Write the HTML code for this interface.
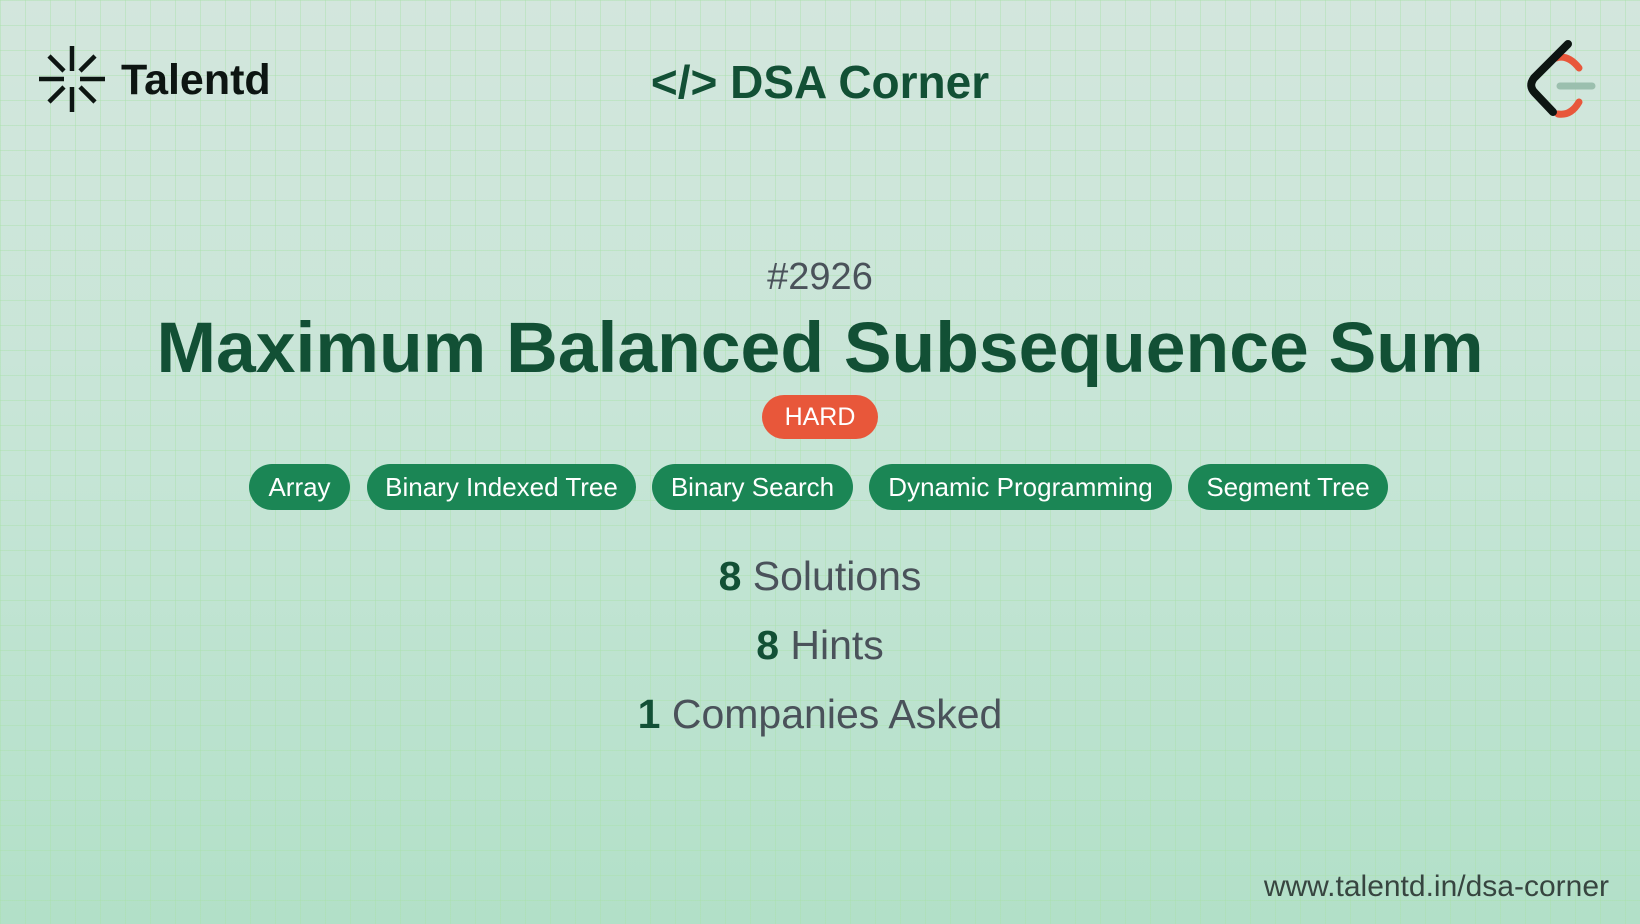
<!DOCTYPE html>
<html><head><meta charset="utf-8"><style>
html,body{margin:0;padding:0}
body{width:1640px;height:924px;position:relative;overflow:hidden;font-family:"Liberation Sans",Arial,sans-serif;
background:linear-gradient(180deg,#d3e6dd 0%,#c6e5d6 50%,#b2e0c8 100%);}
.grid{position:absolute;inset:0;background-image:linear-gradient(to right,rgba(170,225,170,.45) 1px,transparent 1px),linear-gradient(to bottom,rgba(170,225,170,.45) 1px,transparent 1px);background-size:25px 25px;background-position:0 0}
.c{position:absolute;left:0;width:1640px;text-align:center;white-space:nowrap}
.pill{position:absolute;top:464px;height:46px;border-radius:23px;background:#1b8655;color:#fff;font-size:26px;display:flex;align-items:center;justify-content:center}
</style></head><body>
<div class="grid"></div>
<svg style="position:absolute;left:38px;top:45px" width="68" height="68" viewBox="-34 -34 68 68">
<g stroke="#0d1512" stroke-width="4.5">
<line x1="0" y1="-33" x2="0" y2="-8"/><line x1="0" y1="8" x2="0" y2="33"/>
<line x1="-33" y1="0" x2="-8" y2="0"/><line x1="8" y1="0" x2="33" y2="0"/>
<line x1="-23" y1="-23" x2="-8" y2="-8"/><line x1="23" y1="-23" x2="8" y2="-8"/>
<line x1="-23" y1="23" x2="-8" y2="8"/><line x1="23" y1="23" x2="8" y2="8"/>
</g></svg>
<div style="position:absolute;left:121px;top:56px;font-size:43px;font-weight:bold;color:#0d1512">Talentd</div>
<div class="c" style="top:55px;font-size:46px;font-weight:bold;color:#125035">&lt;/&gt; DSA Corner</div>
<svg style="position:absolute;left:1520px;top:36px" width="80" height="84" viewBox="0 0 80 84">
<path d="M36 22 Q48 18 59 32" stroke="#e8573a" stroke-width="7" fill="none" stroke-linecap="round"/>
<path d="M38 78 Q51 80 59 66" stroke="#e8573a" stroke-width="7" fill="none" stroke-linecap="round"/>
<line x1="40" y1="50" x2="72" y2="50" stroke="#9bbfae" stroke-width="7" stroke-linecap="round"/>
<path d="M48 8 L14 42 Q8 50 15 57 L33 76" stroke="#0d1512" stroke-width="8" fill="none" stroke-linecap="round" stroke-linejoin="round"/>
</svg>
<div class="c" style="top:256px;font-size:38px;color:#4a525a">#2926</div>
<div class="c" style="top:307px;font-size:71.5px;font-weight:bold;color:#125035">Maximum Balanced Subsequence Sum</div>
<div style="position:absolute;left:762px;top:395px;width:116px;height:44px;border-radius:22px;background:#e8573a;color:#fff;font-size:25px;display:flex;align-items:center;justify-content:center">HARD</div>
<div class="pill" style="left:249px;width:101px">Array</div>
<div class="pill" style="left:367px;width:269px">Binary Indexed Tree</div>
<div class="pill" style="left:652px;width:201px">Binary Search</div>
<div class="pill" style="left:869px;width:303px">Dynamic Programming</div>
<div class="pill" style="left:1188px;width:200px">Segment Tree</div>
<div class="c" style="top:553px;font-size:41px;color:#4a525a"><b style="color:#125035">8</b> Solutions</div>
<div class="c" style="top:622px;font-size:41px;color:#4a525a"><b style="color:#125035">8</b> Hints</div>
<div class="c" style="top:691px;font-size:41px;color:#4a525a"><b style="color:#125035">1</b> Companies Asked</div>
<div style="position:absolute;right:31px;top:870px;font-size:30px;color:#374540">www.talentd.in/dsa-corner</div>
</body></html>
